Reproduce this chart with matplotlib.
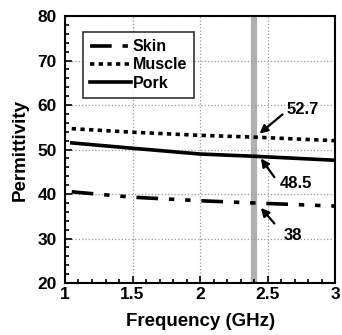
import matplotlib
matplotlib.use("Agg")
import matplotlib.pyplot as plt
from matplotlib.ticker import MultipleLocator

plt.rcParams['font.family'] = ['Liberation Sans', 'DejaVu Sans']
plt.rcParams['font.weight'] = 'bold'

freq = [1.05, 1.5, 2.0, 2.4, 3.0]
skin = [40.5, 39.3, 38.5, 38.0, 37.3]
muscle = [54.7, 53.9, 53.2, 52.8, 52.0]
pork = [51.5, 50.3, 49.0, 48.5, 47.6]
marker_freq = 2.4
# label, arrow head (x, y), arrow tail (x, y), text (x, y)
annotations = [("52.7", (2.44, 53.6), (2.61, 57.9), (2.76, 58.9)),
               ("48.5", (2.45, 48.0), (2.55, 43.8), (2.71, 42.3)),
               ("38", (2.45, 36.9), (2.55, 33.4), (2.69, 30.8))]

fig = plt.figure(figsize=(3.42, 3.35), dpi=100)
ax = fig.add_axes([0.190, 0.155, 0.790, 0.797])

ax.axvline(marker_freq, color='#b0b0b0', lw=4.5, zorder=1)
ax.plot(freq, skin, color='black', lw=2.6, dashes=(6, 3, 1.5, 3, 1.5, 3), label='Skin', zorder=3)
ax.plot(freq, muscle, color='black', lw=2.6, dashes=(1.2, 1.2), label='Muscle', zorder=3)
ax.plot(freq, pork, color='black', lw=2.6, label='Pork', zorder=3)

for txt, head, tail, tpos in annotations:
    ax.annotate('', xy=head, xytext=tail,
                arrowprops=dict(arrowstyle='-|>', color='black', lw=1.6, shrinkA=0, shrinkB=0,
                                mutation_scale=12), zorder=4)
    ax.text(tpos[0], tpos[1], txt, fontsize=12, fontweight='bold', ha='center', va='center')

ax.set_xlim(1, 3)
ax.set_ylim(20, 80)
ax.xaxis.set_major_locator(MultipleLocator(0.5))
ax.xaxis.set_minor_locator(MultipleLocator(0.1))
ax.yaxis.set_major_locator(MultipleLocator(10))
ax.yaxis.set_minor_locator(MultipleLocator(2))
ax.set_xticks([1, 1.5, 2, 2.5, 3])
ax.set_xticklabels(['1', '1.5', '2', '2.5', '3'])
ax.tick_params(which='both', direction='in', top=False, right=False, labelsize=12.5, width=1.2)
ax.tick_params(axis='y', which='major', length=5, pad=6)
ax.tick_params(axis='x', which='major', length=5, pad=3)
ax.tick_params(which='minor', length=3)
ax.grid(True, which='major', color='#999999', linestyle=':', lw=0.9)
for s in ax.spines.values():
    s.set_linewidth(1.5)

ax.set_xlabel('Frequency (GHz)', fontsize=13.5, fontweight='bold', labelpad=8)
ax.set_ylabel('Permittivity', fontsize=13.5, fontweight='bold', labelpad=6)

leg = ax.legend(loc='upper left', bbox_to_anchor=(0.065, 0.94), fontsize=11.5, frameon=True,
                fancybox=False, edgecolor='black', handlelength=2.6, handletextpad=0.1,
                borderpad=0.45, labelspacing=0.2, borderaxespad=0)
leg.get_frame().set_linewidth(1.2)
for t in leg.get_texts():
    t.set_fontweight('bold')

fig.savefig('out.png', dpi=100)
